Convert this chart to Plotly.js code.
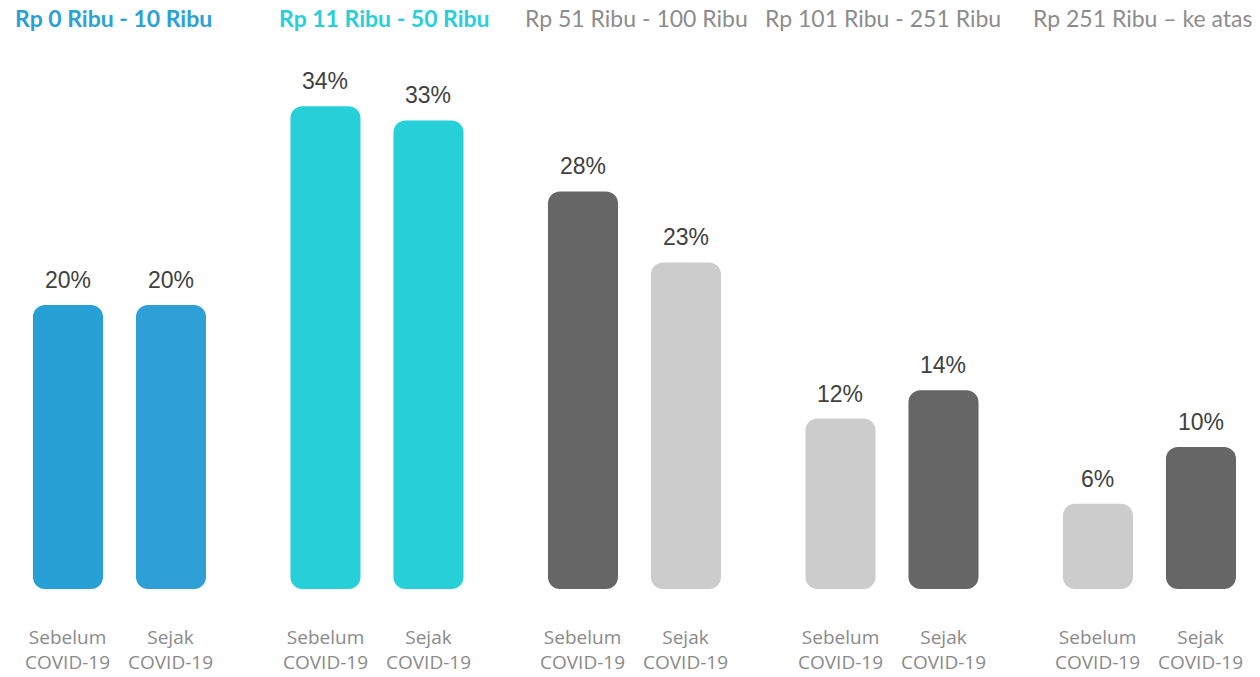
<!DOCTYPE html>
<html>
<head>
<meta charset="utf-8">
<script src="https://cdn.plot.ly/plotly-3.0.1.min.js"></script>
<style>html,body{margin:0;padding:0;background:#fff;}#chart{width:1260px;height:677px;}</style>
</head>
<body>
<div id="chart"></div>
<script>
// ---- data ----
const groups = ["Rp 0 Ribu - 10 Ribu", "Rp 11 Ribu - 50 Ribu", "Rp 51 Ribu - 100 Ribu", "Rp 101 Ribu - 251 Ribu", "Rp 251 Ribu \u2013 ke atas"];
const periods = ["Sebelum<br>COVID-19", "Sejak<br>COVID-19"];
const sebelum = [20, 34, 28, 12, 6];
const sejak = [20, 33, 23, 14, 10];
const sebelumColors = ["#27a0d5", "#27cfd8", "#666666", "#cccccc", "#cccccc"];
const sejakColors = ["#2fa0d5", "#27cfd8", "#cccccc", "#666666", "#666666"];
const headerColors = ["#2ba1d6", "#27cfd8", "#8c8c8c", "#8c8c8c", "#8c8c8c"];
const headerBold = [true, true, false, false, false];
const headerShift = [-6, 8, 2, -9, -6];

// ---- build ----
const GAP = 2.5;
const xs = [], vals = [], cols = [];
groups.forEach((g, i) => {
  xs.push(i * GAP, i * GAP + 1);
  vals.push(sebelum[i], sejak[i]);
  cols.push(sebelumColors[i], sejakColors[i]);
});
const traces = [{type: 'bar', x: xs, y: vals, base: vals.map(() => 0), width: 0.68,
  marker: {color: cols, cornerradius: 12, line: {width: 0}},
  hoverinfo: 'skip', showlegend: false}];

const annotations = [];
xs.forEach((x, k) => {
  annotations.push({x: x, y: vals[k], xref: 'x', yref: 'y', text: vals[k] + '%',
    showarrow: false, yanchor: 'bottom', yshift: 10,
    font: {family: 'Liberation Sans, Arial, sans-serif', size: 23, color: '#404040'}});
  annotations.push({x: x, y: 0, xref: 'x', yref: 'y', text: periods[k % 2],
    showarrow: false, yanchor: 'top', yshift: -34, borderpad: 0,
    font: {family: 'Open Sans, sans-serif', size: 19, color: '#8a8a8a'}});
});
groups.forEach((g, i) => {
  annotations.push({x: i * GAP + 0.5, y: 1, xref: 'x', yref: 'paper', text: headerBold[i] ? '<b>' + g + '</b>' : g,
    showarrow: false, yanchor: 'middle', yshift: -18, xshift: headerShift[i],
    font: {family: 'Lato, sans-serif', size: 23, color: headerColors[i]}});
});

const layout = {
  width: 1260, height: 677,
  margin: {l: 0, r: 0, t: 0, b: 0},
  paper_bgcolor: '#ffffff', plot_bgcolor: '#ffffff',
  barmode: 'overlay',
  xaxis: {range: [-0.66, 11.573], visible: false, fixedrange: true},
  yaxis: {range: [-6.197, 41.48], visible: false, fixedrange: true},
  annotations: annotations
};
Plotly.newPlot('chart', traces, layout, {staticPlot: true, displayModeBar: false});
</script>
</body>
</html>
